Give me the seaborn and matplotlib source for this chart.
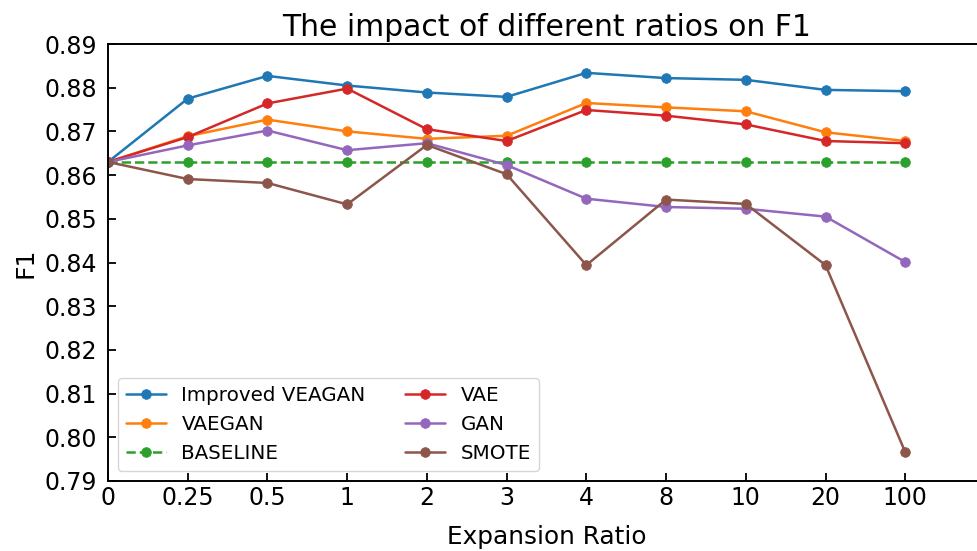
import matplotlib
matplotlib.use("Agg")
import matplotlib.pyplot as plt
import seaborn as sns
import numpy as np

ratios = ["0", "0.25", "0.5", "1", "2", "3", "4", "8", "10", "20", "100"]
improved_veagan = [0.863, 0.8775, 0.8827, 0.8805, 0.8789, 0.8779, 0.8834, 0.8822, 0.8818, 0.8795, 0.8792]
vaegan = [0.863, 0.8689, 0.8727, 0.8700, 0.8683, 0.8690, 0.8765, 0.8755, 0.8746, 0.8698, 0.8678]
baseline = [0.863] * 11
vae = [0.863, 0.8687, 0.8764, 0.8798, 0.8705, 0.8678, 0.8749, 0.8736, 0.8716, 0.8678, 0.8673]
gan = [0.863, 0.8668, 0.8702, 0.8657, 0.8673, 0.8623, 0.8546, 0.8527, 0.8523, 0.8505, 0.8401]
smote = [0.863, 0.8591, 0.8582, 0.8533, 0.8669, 0.8602, 0.8394, 0.8544, 0.8534, 0.8394, 0.7966]
yticks = [0.79, 0.80, 0.81, 0.82, 0.83, 0.84, 0.85, 0.86, 0.87, 0.88, 0.89]

series = [
    ("Improved VEAGAN", improved_veagan, "-"),
    ("VAEGAN", vaegan, "-"),
    ("BASELINE", baseline, "--"),
    ("VAE", vae, "-"),
    ("GAN", gan, "-"),
    ("SMOTE", smote, "-"),
]

sns.set_style("white")
plt.rcParams["font.family"] = ["DejaVu Sans"]
plt.rcParams.update({
    "text.color": "black",
    "axes.labelcolor": "black",
    "xtick.color": "black",
    "ytick.color": "black",
})

fig = plt.figure(figsize=(9.77, 5.51), dpi=100)
ax = fig.add_axes([108 / 977, 1 - 481 / 551, 877 / 977, 437 / 551])

palette = sns.color_palette("tab10")
x = np.arange(len(ratios))
for i, (name, vals, ls) in enumerate(series):
    c = palette[i]
    sns.lineplot(x=x, y=vals, ax=ax, color=c, marker="o", markersize=7,
                 markeredgecolor=c, markeredgewidth=0.5, linewidth=1.8,
                 linestyle=ls, label=name)

ax.set_xlim(0, 11)
ax.set_ylim(0.79, 0.89)
ax.set_xticks(x)
ax.set_xticklabels(ratios)
ax.set_yticks(yticks)
ax.set_yticklabels([f"{v:.2f}" for v in yticks])
ax.tick_params(axis="both", direction="in", length=5.5, width=1.3, labelsize=17,
               bottom=True, left=True, top=False, right=False)
ax.tick_params(axis="y", pad=8)
for s in ax.spines.values():
    s.set_color("black")
    s.set_linewidth(1.4)

ax.set_title("The impact of different ratios on F1", fontsize=21.5)
ax.set_xlabel("Expansion Ratio", fontsize=17.8, labelpad=11)
ax.set_ylabel("F1", fontsize=18, labelpad=4.6)

leg = ax.legend(ncol=2, loc="lower left", fontsize=14.3, frameon=True)
leg.get_frame().set_edgecolor("0.8")

fig.savefig("out.png", dpi=100)
